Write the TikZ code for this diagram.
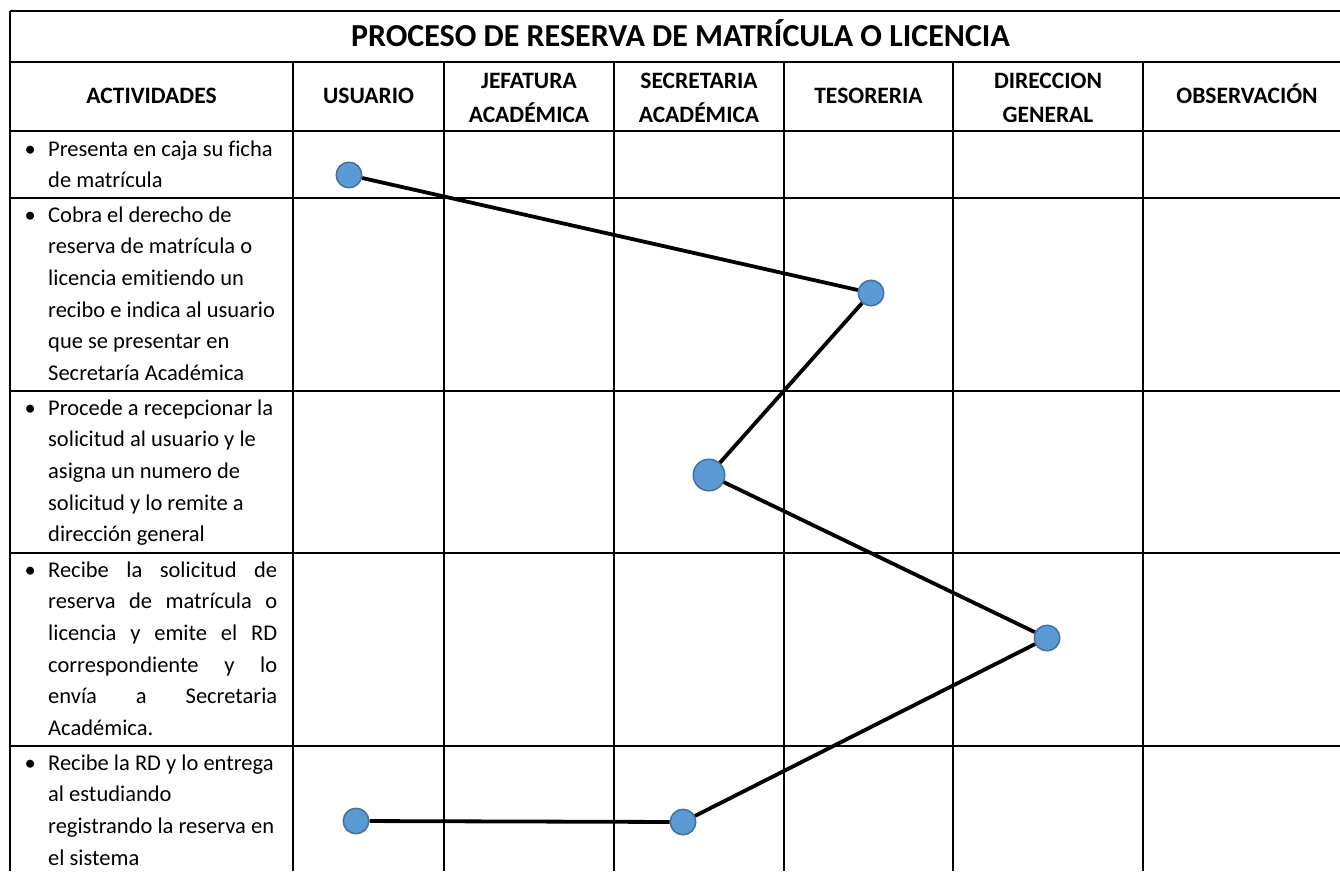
\documentclass[tikz,border=0pt]{standalone}
\usepackage{fontspec}
\setmainfont{Carlito}[Ligatures=NoCommon]
\definecolor{dotfill}{HTML}{5B9BD5}
\definecolor{dotline}{HTML}{41719C}
\newcommand{\actbullet}{\leavevmode\llap{\makebox[36pt]{\textbullet}}}
\newcommand{\jline}[1]{{\spaceskip=0pt\xspaceskip=0pt\makebox[229pt][s]{#1}}}
\begin{document}
\begin{tikzpicture}[x=1pt,y=-1pt,
  gridline/.style={line width=1.8pt, black},
  conn/.style={line width=3.8pt, black},
  bluedot/.style={circle, fill=dotfill, draw=dotline, line width=1.5pt, minimum size=25.5pt, inner sep=0pt},
  hdr/.style={font=\fontsize{23.5}{34.5}\selectfont\bfseries, align=center, inner sep=0pt},
  act/.style={font=\fontsize{22.5}{31.7}\selectfont, text width=245pt, align=flush left, inner sep=0pt, anchor=base west},
  titlestyle/.style={font=\fontsize{32}{38}\selectfont\bfseries, inner sep=0pt, anchor=base}]
\useasboundingbox (0,0) rectangle (1340,871);
% grid
\draw[gridline] (10,11) -- (1340,11);
\draw[gridline] (10,11) -- (10,871);
\foreach \yy in {62,131,198,391,553,746} {\draw[gridline] (10,\yy) -- (1340,\yy);}
\foreach \xx in {293,444,614,784,953,1143} {\draw[gridline] (\xx,62) -- (\xx,871);}
% title
\node[titlestyle] (title) at (680.5,46.7) {PROCESO DE RESERVA DE MATRÍCULA O LICENCIA};
% headers
\node[hdr, anchor=base] (hA) at (151.5,103) {ACTIVIDADES};
\node[hdr, anchor=base] (hU) at (368.5,103) {USUARIO};
\node[hdr] (hJ) at (529,98) {JEFATURA\\ACADÉMICA};
\node[hdr] (hS) at (699,98) {SECRETARIA\\ACADÉMICA};
\node[hdr, anchor=base] (hT) at (868.5,103) {TESORERIA};
\node[hdr] (hD) at (1048,98) {DIRECCION\\GENERAL};
\node[hdr, anchor=base] (hO) at (1247,103) {OBSERVACIÓN};
% activities
\node[act] (a1) at (48,156) {\actbullet Presenta en caja su ficha\\de matrícula};
\node[act] (a2) at (48,222) {\actbullet Cobra el derecho de\\reserva de matrícula o\\licencia emitiendo un\\recibo e indica al usuario\\que se presentar en\\Secretaría Académica};
\node[act] (a3) at (48,415) {\actbullet Procede a recepcionar la\\solicitud al usuario y le\\asigna un numero de\\solicitud y lo remite a\\dirección general};
\node[act] (a4) at (48,577) {\actbullet\jline{Recibe la solicitud de}\\\jline{reserva de matrícula o}\\\jline{licencia y emite el RD}\\\jline{correspondiente y lo}\\\jline{envía a Secretaria}\\Académica.};
\node[act] (a5) at (48,770) {\actbullet Recibe la RD y lo entrega\\al estudiando\\registrando la reserva en\\el sistema};
% dots
\node[bluedot] (d1) at (349,175) {};
\node[bluedot] (d2) at (871,293) {};
\node[bluedot, minimum size=31.5pt] (d3) at (709,475) {};
\node[bluedot] (d4) at (1047,638) {};
\node[bluedot] (d5) at (356,821) {};
\node[bluedot] (d6) at (683,822) {};
% connectors
\draw[conn] (d1) -- (d2);
\draw[conn] (d2) -- (d3);
\draw[conn] (d3) -- (d4);
\draw[conn] (d4) -- (d6);
\draw[conn] (d6) -- (d5);
\end{tikzpicture}
\end{document}
